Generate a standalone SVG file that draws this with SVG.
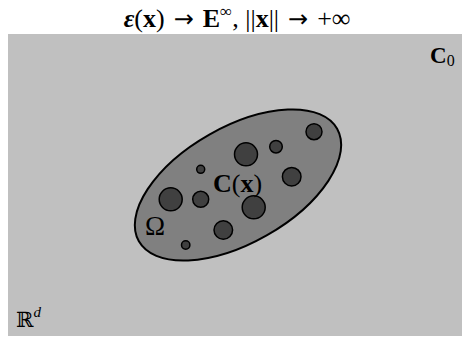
<svg xmlns="http://www.w3.org/2000/svg" width="462" height="340" viewBox="0 0 462 340">
<style>
text{font-family:"Liberation Serif","DejaVu Serif",serif;fill:#000}
.b{font-weight:bold}
.ar{font-family:"DejaVu Sans",sans-serif;font-size:24px}
.grain{fill:#404040;stroke:#000;stroke-width:1.5}
</style>
<rect width="462" height="340" fill="#fff"/>
<g id="domain">
<rect x="8" y="34" width="454" height="302" fill="#c0c0c0"/>
<text x="16" y="327" font-size="21" font-family="DejaVu Serif,serif">ℝ<tspan font-style="italic" font-size="15" dy="-10" font-family="Liberation Serif,serif">d</tspan></text>
</g>
<g id="title">
<text x="237" y="27" font-size="26" text-anchor="middle"><tspan class="b" font-style="italic">ε</tspan>(<tspan class="b">x</tspan>)<tspan class="ar" dx="9">→</tspan><tspan class="b" dx="9">E</tspan><tspan font-size="17" dy="-10">∞</tspan><tspan dy="10">, ||</tspan><tspan class="b">x</tspan>||<tspan class="ar" dx="9">→</tspan><tspan dx="9">+∞</tspan></text>
</g>
<g id="C0">
<text x="430" y="63" font-size="23"><tspan class="b">C</tspan><tspan font-size="16" dy="3">0</tspan></text>
</g>
<g id="omega">
<ellipse cx="238" cy="185" rx="114" ry="58" transform="rotate(-29.6 238 185)" fill="#808080" stroke="#000" stroke-width="2"/>
<text x="145" y="235" font-size="27">Ω</text>
</g>
<g id="inclusions">
<circle class="grain" cx="314" cy="131.7" r="8"/>
<circle class="grain" cx="246" cy="154.3" r="11.5"/>
<circle class="grain" cx="276" cy="146.7" r="6.3"/>
<circle class="grain" cx="200.7" cy="169.3" r="4"/>
<circle class="grain" cx="291.7" cy="176.7" r="9.3"/>
<circle class="grain" cx="170.7" cy="199.3" r="11.5"/>
<circle class="grain" cx="200.7" cy="199.3" r="8"/>
<circle class="grain" cx="253.7" cy="207.3" r="11.5"/>
<circle class="grain" cx="223.3" cy="230" r="9.3"/>
<circle class="grain" cx="185.7" cy="245" r="4.2"/>
</g>
<g id="Cx">
<text x="213" y="192" font-size="26"><tspan class="b">C</tspan>(<tspan class="b">x</tspan>)</text>
</g>
</svg>
